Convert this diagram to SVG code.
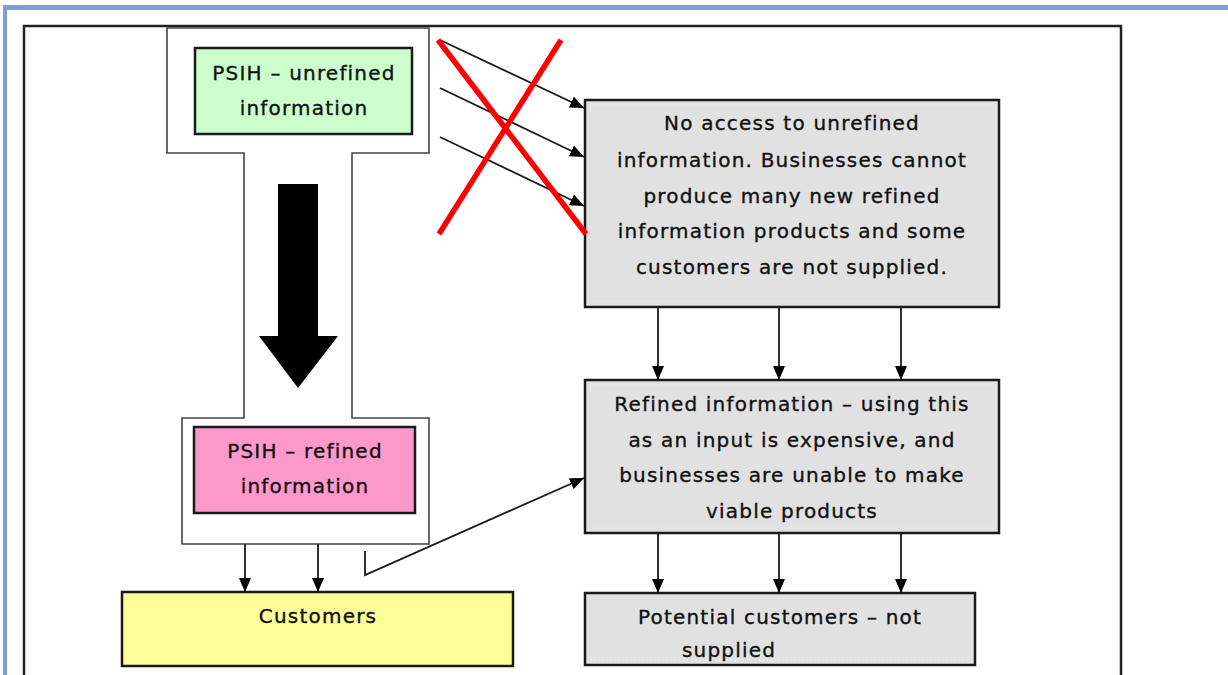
<svg xmlns="http://www.w3.org/2000/svg" width="1228" height="675" viewBox="0 0 1228 675">
<defs>
<marker id="ahl" viewBox="0 0 14 12" refX="14" refY="6" markerWidth="14" markerHeight="12" markerUnits="userSpaceOnUse" orient="auto">
<path d="M0,0 L14,6 L0,12 Z" fill="#000"/>
</marker>
</defs>
<style>
.t{font-family:"DejaVu Sans",Verdana,sans-serif;font-size:20px;letter-spacing:1.2px;fill:#111;stroke:#111;stroke-width:0.35;text-anchor:middle}
.box{stroke:#1a1a1a;stroke-width:2.5}
.gray{fill:#e1e1e1;stroke:#1a1a1a;stroke-width:2.5}
.dots{fill:none;stroke:#f2f2f2;stroke-width:1;stroke-dasharray:1 3}
.c{fill:none;stroke:#1a1a1a;stroke-width:1.8;marker-end:url(#ahl)}
.x{stroke:#ff0000;stroke-width:5.5;stroke-linecap:butt}
</style>
<rect x="0" y="0" width="1228" height="675" fill="#fff"/>
<g id="page-border">
<rect x="3" y="5" width="1225" height="5" fill="#7f9fd3"/>
<rect x="3" y="5" width="4" height="670" fill="#7f9fd3"/>
<rect x="24" y="26" width="1097" height="680" fill="none" stroke="#222" stroke-width="2.5"/>
</g>
<g id="psih-outline">
<path d="M167,28 L429,28 L429,153 L352,153 L352,418 L429,418 L429,544 L182,544 L182,418 L244,418 L244,153 L167,153 Z" fill="#fff" stroke="#444" stroke-width="1.6"/>
</g>
<g id="big-arrow">
<path d="M278,184 L318,184 L318,336 L338,336 L298,388 L259,336 L278,336 Z" fill="#000"/>
</g>
<g id="psih-unrefined">
<rect class="box" x="195" y="48" width="217" height="86" fill="#ccffcc"/>
<text class="t" x="304" y="80">PSIH – unrefined</text>
<text class="t" x="304" y="115">information</text>
</g>
<g id="psih-refined">
<rect class="box" x="194" y="427" width="221" height="86" fill="#ff99cc"/>
<text class="t" x="305" y="458">PSIH – refined</text>
<text class="t" x="305" y="493">information</text>
</g>
<g id="customers">
<rect class="box" x="122" y="592" width="391" height="74" fill="#ffff99"/>
<text class="t" x="318" y="623">Customers</text>
</g>
<g id="no-access">
<rect class="gray" x="585" y="100" width="414" height="207"/>
<rect class="dots" x="590" y="105" width="404" height="197"/>
<text class="t" x="792" y="130">No access to unrefined</text>
<text class="t" x="792" y="167">information. Businesses cannot</text>
<text class="t" x="792" y="203">produce many new refined</text>
<text class="t" x="792" y="238">information products and some</text>
<text class="t" x="792" y="274">customers are not supplied.</text>
</g>
<g id="refined-info">
<rect class="gray" x="585" y="380" width="414" height="153"/>
<rect class="dots" x="590" y="385" width="404" height="143"/>
<text class="t" x="792" y="411">Refined information – using this</text>
<text class="t" x="792" y="447">as an input is expensive, and</text>
<text class="t" x="792" y="482">businesses are unable to make</text>
<text class="t" x="792" y="518">viable products</text>
</g>
<g id="potential-customers">
<rect class="gray" x="585" y="593" width="390" height="72"/>
<rect class="dots" x="590" y="598" width="380" height="62"/>
<text class="t" x="780" y="624">Potential customers – not</text>
<text class="t" x="729" y="657">supplied</text>
</g>
<g id="connectors">
<line class="c" x1="440" y1="40" x2="584" y2="108"/>
<line class="c" x1="440" y1="88" x2="584" y2="157"/>
<line class="c" x1="440" y1="137" x2="584" y2="206"/>
<line class="c" x1="658" y1="307" x2="658" y2="380"/>
<line class="c" x1="779" y1="307" x2="779" y2="380"/>
<line class="c" x1="901" y1="307" x2="901" y2="380"/>
<line class="c" x1="658" y1="533" x2="658" y2="593"/>
<line class="c" x1="779" y1="533" x2="779" y2="593"/>
<line class="c" x1="901" y1="533" x2="901" y2="593"/>
<line class="c" x1="245" y1="544" x2="245" y2="592"/>
<line class="c" x1="318" y1="544" x2="318" y2="592"/>
<polyline class="c" points="365,551 365,575 584,478"/>
</g>
<g id="red-cross">
<line class="x" x1="438" y1="40" x2="586" y2="234"/>
<line class="x" x1="561" y1="40" x2="439" y2="234"/>
</g>
</svg>
